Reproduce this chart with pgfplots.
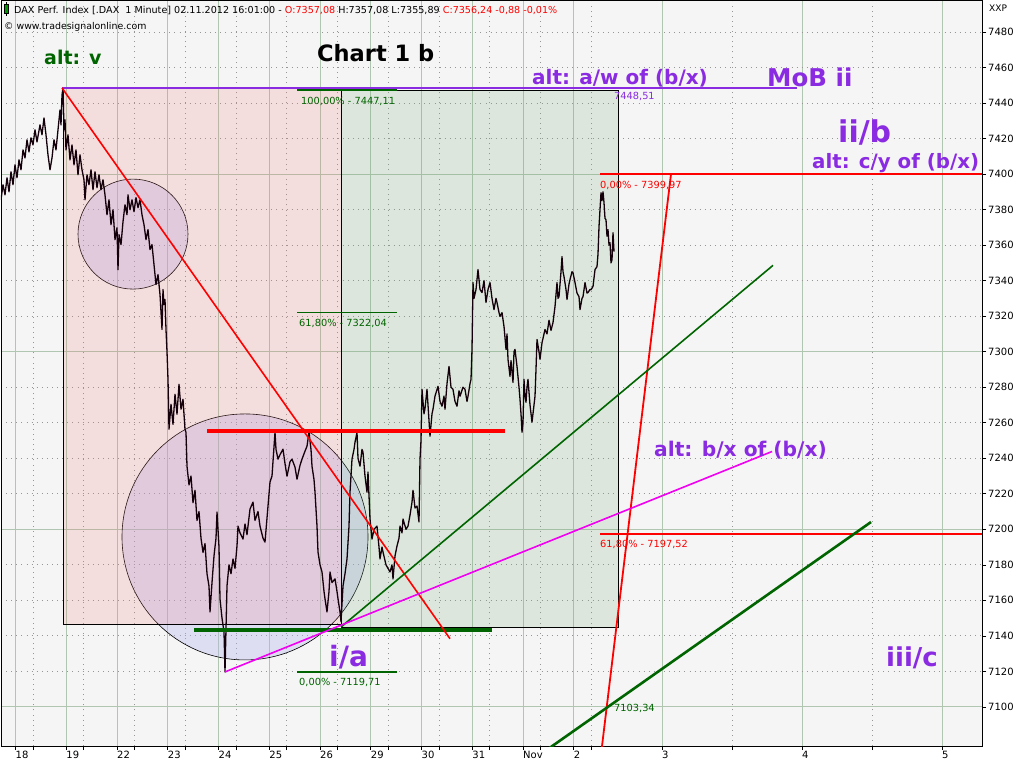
\documentclass[border=0pt]{standalone}
\usepackage{pgfplots}
\pgfplotsset{compat=1.18}
\usepackage{fontspec}
\setmainfont{DejaVu Sans}
\definecolor{bgc}{RGB}{245,245,245}
\definecolor{gridc}{RGB}{176,198,176}
\definecolor{dotc}{RGB}{150,150,150}
\definecolor{pinkf}{RGB}{235,120,120}
\definecolor{greenf}{RGB}{120,170,120}
\definecolor{circf}{RGB}{180,180,240}
\definecolor{vio}{RGB}{138,43,226}
\definecolor{dgreen}{RGB}{0,100,0}
\definecolor{mag}{RGB}{240,0,240}
\definecolor{rred}{RGB}{255,0,0}
\definecolor{candle}{RGB}{0,150,0}
\definecolor{price}{RGB}{20,0,10}
\begin{document}
\begin{tikzpicture}[x=1pt,y=1pt]
\useasboundingbox (0,0) rectangle (1024,768);
\begin{axis}[
  at={(1pt,22pt)}, anchor=south west, scale only axis,
  width=981pt, height=746pt,
  xmin=1, xmax=982, ymin=7078, ymax=7498,
  axis background/.style={fill=bgc},
  axis line style={black, line width=0.8pt},
  tick align=outside,
  xtick pos=left, ytick pos=right,
  major tick length=4pt, minor tick length=4pt,
  tick style={black, line width=0.6pt},
  xtick={15.5,66.25,117,167.75,218.5,269.25,320,370.75,421.5,472.25,523,573.75,662,802,942},
  xticklabels={18,19,22,23,24,25,26,29,30,31,Nov,2,3,4,5},
  minor xtick={33,83.75,134.5,185.25,236,286.75,337.5,388.25,439,489.75,540.5,591.25,732,872},
  ytick={7100,7200,7300,7400},
  minor ytick={7120,7140,7160,7180,7220,7240,7260,7280,7320,7340,7360,7380,7420,7440,7460,7480},
  extra y ticks={7120,7140,7160,7180,7220,7240,7260,7280,7320,7340,7360,7380,7420,7440,7460,7480},
  extra y tick style={grid=none},
  xmajorgrids, xminorgrids, ymajorgrids, yminorgrids,
  major grid style={solid, color=gridc, line width=0.9pt},
  minor grid style={color=dotc, line width=0.8pt, dash pattern=on 0.9pt off 4.2pt},
  /pgf/number format/1000 sep={},
  /pgf/number format/assume math mode=true,
  ticklabel style={font=\fontsize{10}{12}\selectfont},
  xticklabel style={anchor=north west, xshift=-1pt, inner sep=1pt},
  yticklabel style={anchor=west, inner sep=2pt},
]
% circles (under the boxes)
\draw[black, line width=0.6pt, fill=circf, fill opacity=0.35] (axis cs:133,7366.2) circle[radius=55pt];
\draw[black, line width=0.6pt, fill=circf, fill opacity=0.35] (axis cs:245,7195.7) circle[radius=123pt];
% boxes
\addplot[draw=black, line width=0.8pt, fill=pinkf, fill opacity=0.19] coordinates {(63,7448.2)(341,7448.2)(341,7146.7)(63,7146.7)} -- cycle;
\addplot[draw=black, line width=0.8pt, fill=greenf, fill opacity=0.2] coordinates {(341,7447.1)(618,7447.1)(618,7145.0)(341,7145.0)} -- cycle;
% price
\addplot[price, line width=1.3pt, line join=round] coordinates {
(1,7385.5)(3,7394.0)(5,7388.3)(7,7397.9)(9,7390.0)(11,7401.3)(13,7394.0)(15,7405.2)(17,7397.9)(19,7408.0)(21,7402.4)(23,7413.6)(25,7409.1)(27,7419.3)(29,7412.5)(31,7420.4)(33,7416.4)(35,7424.9)(37,7418.1)(40,7427.7)(42,7422.1)(44,7431.6)(46,7422.1)(48,7410.8)(50,7402.4)(52,7409.1)(54,7419.3)(56,7413.6)(58,7424.9)(60,7436.1)(61,7427.7)(62,7444.5)(63,7448.5)
(64,7424.9)(65,7430.5)(66,7413.6)(68,7422.1)(70,7408.0)(72,7416.4)(74,7405.2)(76,7413.6)(78,7399.6)(80,7410.8)(82,7402.4)(84,7396.8)(85,7385.5)(87,7399.6)(89,7394.0)(91,7402.4)(93,7391.2)(95,7401.3)(97,7392.3)(99,7399.6)(101,7391.2)(103,7396.8)
(105,7388.3)(107,7377.1)(109,7385.5)(111,7371.5)(113,7379.9)(115,7363.1)(117,7369.8)(118,7346.2)(119,7365.9)(121,7360.3)(123,7373.2)(125,7382.7)(127,7377.1)(128,7388.3)(130,7379.9)(132,7385.5)(134,7378.8)(136,7386.7)(138,7381.1)(140,7385.5)(142,7377.1)(144,7371.5)(146,7363.1)(148,7368.7)(150,7357.5)(152,7360.3)(154,7349.0)(156,7337.8)(158,7343.4)(160,7332.2)(162,7312.5)(163,7335.0)(164,7326.6)(165,7329.4)(166,7312.5)
(167,7300.0)(168,7284.4)(169,7256.3)(171,7270.4)(173,7259.1)(175,7276.0)(177,7264.8)(179,7281.6)(181,7267.6)(183,7273.2)(185,7256.3)(186,7254.6)(187,7235.5)(189,7225.0)(191,7230.0)(193,7215.0)(195,7222.0)(197,7205.0)(199,7210.0)(201,7195.0)(203,7187.0)(205,7192.0)(207,7175.0)(209,7168.0)(210,7153.5)(212,7170.0)(214,7185.0)(216,7195.0)(217,7209.7)
(219,7190.0)(220,7160.8)(222,7150.0)(224,7142.3)(225,7119.7)(227,7168.1)(229,7180.0)(231,7175.0)(233,7183.3)(235,7178.0)(237,7190.6)(238,7201.8)(240,7198.0)(243,7194.5)(245,7203.0)(247,7197.0)(250,7211.4)(253,7215.3)(255,7205.0)(258,7210.0)(260,7201.8)(263,7195.0)(265,7192.8)(268,7213.1)
(270,7226.6)(272,7230.0)(275,7254.6)(276,7245.0)(278,7239.5)(280,7242.0)(283,7245.1)(285,7237.0)(287,7229.9)(290,7238.0)(292,7239.5)(295,7235.0)(297,7228.2)(300,7236.0)(302,7239.5)(305,7244.0)(307,7246.8)(309,7254.6)(311,7245.0)(312,7235.5)(314,7228.0)(315,7220.9)(317,7201.8)(318,7187.2)(320,7180.0)
(322,7176.0)(324,7165.0)(325,7160.8)(327,7153.5)(329,7165.0)(330,7176.0)(332,7170.0)(335,7172.1)(337,7165.0)(338,7160.8)(340,7153.5)(341,7148.0)(343,7168.1)(345,7175.0)(347,7183.3)(349,7201.8)(350,7220.9)(352,7239.5)(354,7245.0)(355,7249.0)(357,7254.6)(358,7240.0)(360,7235.5)(362,7245.0)(363,7243.4)(365,7230.0)(367,7220.9)(368,7232.2)(370,7205.8)
(372,7194.5)(374,7200.0)(377,7201.8)(379,7190.0)(380,7183.3)(382,7190.0)(383,7187.2)(386,7180.0)(390,7176.0)(392,7180.0)(393,7172.1)(395,7185.0)(397,7190.6)(399,7195.0)(400,7201.8)(402,7198.0)(403,7205.8)(406,7200.0)(408,7201.8)(410,7208.0)(412,7215.3)(413,7222.0)(415,7212.0)(417,7213.1)(419,7204.1)
(420,7239.5)(421,7250.0)(422,7278.8)(424,7265.0)(425,7268.0)(427,7278.8)(428,7270.0)(430,7252.4)(432,7265.0)(433,7267.6)(435,7275.0)(438,7280.5)(440,7272.0)(442,7269.3)(444,7275.0)(445,7267.6)(447,7282.0)(449,7291.7)(451,7280.0)(453,7278.8)(455,7272.0)(457,7269.3)(459,7278.0)(460,7274.9)(463,7280.0)(465,7278.8)(467,7272.0)(468,7274.9)(470,7282.0)(471,7284.4)
(472,7301.3)(473,7338.9)(474,7330.0)(476,7335.0)(478,7346.2)(480,7335.0)(482,7333.3)(484,7340.0)(486,7327.7)(488,7335.0)(490,7338.9)(492,7330.0)(494,7323.7)(496,7330.0)(497,7327.7)(499,7322.0)(500,7319.8)(502,7322.0)(504,7314.2)(506,7301.3)(507,7310.0)(508,7295.7)(510,7286.1)(511,7295.0)(513,7282.7)(514,7300.0)(515,7301.3)(517,7291.7)(519,7280.0)(520,7273.2)(521,7265.0)(522,7254.6)(523,7260.0)
(524,7284.4)(525,7275.0)(526,7271.5)(527,7280.0)(528,7284.4)(530,7270.0)(532,7260.3)(534,7270.0)(535,7274.9)(536,7290.0)(537,7306.9)(539,7300.0)(540,7295.7)(542,7305.0)(545,7312.5)(547,7310.0)(549,7317.7)(551,7312.0)(553,7316.4)(555,7325.4)(557,7338.9)(558,7330.0)(559,7331.0)(561,7345.0)(562,7353.5)(563,7345.0)(564,7342.3)(566,7335.0)(567,7329.4)(569,7338.0)(570,7340.6)(572,7345.0)(573,7344.5)
(575,7338.9)(577,7333.0)(579,7331.0)(580,7323.7)(582,7330.0)(583,7331.0)(585,7338.9)(587,7333.0)(588,7333.3)(590,7335.0)(591,7334.9)(593,7336.7)(595,7346.2)(597,7347.9)(598,7355.0)(599,7370.4)(600,7380.0)(601,7389.5)(602,7385.0)(603,7390.0)(604,7383.9)(605,7375.0)(606,7374.3)(607,7365.0)(608,7368.7)(609,7360.0)(610,7361.4)(611,7350.0)(612,7351.8)(613,7367.0)(614,7356.3)
};
% horizontal levels
\addplot[vio, line width=2pt] coordinates {(62,7448.5)(797,7448.5)};
\addplot[dgreen, line width=2pt] coordinates {(297,7447.1)(397,7447.1)};
\addplot[dgreen, line width=1.6pt] coordinates {(297,7322.0)(397,7322.0)};
\addplot[dgreen, line width=1.6pt] coordinates {(297,7119.7)(397,7119.7)};
\addplot[rred, line width=1.8pt] coordinates {(600,7400.0)(982,7400.0)};
\addplot[rred, line width=1.8pt] coordinates {(600,7197.5)(982,7197.5)};
\addplot[rred, line width=3.5pt] coordinates {(207,7255.3)(505,7255.3)};
\addplot[dgreen, line width=4pt] coordinates {(194,7143.3)(492,7143.3)};
% trend lines
\addplot[rred, line width=1.6pt] coordinates {(62,7448.5)(450,7138.4)};
\addplot[rred, line width=1.8pt] coordinates {(600.3,7070.0)(671,7400.0)};
\addplot[dgreen, line width=1.6pt] coordinates {(341,7145.0)(773,7348.6)};
\addplot[dgreen, line width=2.6pt] coordinates {(548,7076.3)(871,7204.1)};
\addplot[mag, line width=1.6pt] coordinates {(225,7119.7)(772,7243.8)};
% labels
\node[anchor=base west, inner sep=0pt, text=dgreen, font=\bfseries\fontsize{19}{22}\selectfont] at (axis cs:44,7461.8) {alt: v};
\node[anchor=base west, inner sep=0pt, text=black, font=\bfseries\fontsize{22.5}{26}\selectfont] at (axis cs:317,7463.3) {Chart 1 b};
\node[anchor=base west, inner sep=0pt, text=vio, font=\bfseries\fontsize{20}{24}\selectfont] at (axis cs:532,7450.7) {alt: a/w of (b/x)};
\node[anchor=base west, inner sep=0pt, text=vio, font=\bfseries\fontsize{24.5}{28}\selectfont] at (axis cs:767,7449.2) {MoB ii};
\node[anchor=base west, inner sep=0pt, text=vio, font=\bfseries\fontsize{30}{34}\selectfont] at (axis cs:838,7418.0) {ii/b};
\node[anchor=base west, inner sep=0pt, text=vio, font=\bfseries\fontsize{19.8}{24}\selectfont] at (axis cs:812,7403.4) {alt: c/y of (b/x)};
\node[anchor=base west, inner sep=0pt, text=vio, font=\bfseries\fontsize{20.2}{24}\selectfont] at (axis cs:654,7241.2) {alt: b/x of (b/x)};
\node[anchor=base west, inner sep=0pt, text=vio, font=\bfseries\fontsize{28}{32}\selectfont] at (axis cs:329,7122.6) {i/a};
\node[anchor=base west, inner sep=0pt, text=vio, font=\bfseries\fontsize{26}{30}\selectfont] at (axis cs:886,7122.6) {iii/c};
\node[anchor=base west, inner sep=0pt, text=dgreen, font=\fontsize{9.8}{12}\selectfont] at (axis cs:301,7438.9) {100,00\% - 7447,11};
\node[anchor=base west, inner sep=0pt, text=dgreen, font=\fontsize{9.8}{12}\selectfont] at (axis cs:299,7314.4) {61,80\% - 7322,04};
\node[anchor=base west, inner sep=0pt, text=dgreen, font=\fontsize{9.8}{12}\selectfont] at (axis cs:299,7112.3) {0,00\% - 7119,71};
\node[anchor=base west, inner sep=0pt, text=vio, font=\fontsize{9.8}{12}\selectfont] at (axis cs:614,7441.7) {7448,51};
\node[anchor=base west, inner sep=0pt, text=rred, font=\fontsize{9.8}{12}\selectfont] at (axis cs:600,7391.9) {0,00\% - 7399,97};
\node[anchor=base west, inner sep=0pt, text=rred, font=\fontsize{9.8}{12}\selectfont] at (axis cs:600,7189.6) {61,80\% - 7197,52};
\node[anchor=base west, inner sep=0pt, text=dgreen, font=\fontsize{9.8}{12}\selectfont] at (axis cs:614,7097.2) {7103,34};
\end{axis}
% header
\draw[black, line width=0.6pt] (6,766) -- (6,752);
\filldraw[fill=candle, draw=black, line width=0.6pt] (4,764) rectangle (8,755);
\node[anchor=base west, inner sep=0pt, font=\fontsize{9.6}{12}\selectfont] at (14,754) {DAX Perf. Index [.DAX\ \ 1 Minute] 02.11.2012 16:01:00 - \textcolor{rred}{O:7357,08} H:7357,08 L:7355,89 \textcolor{rred}{C:7356,24 -0,88 -0,01\%}};
\node[anchor=base west, inner sep=0pt, font=\fontsize{9.4}{12}\selectfont] at (4,738) {© www.tradesignalonline.com};
\node[anchor=base west, inner sep=0pt, font=\fontsize{9}{12}\selectfont] at (989,756) {XXP};
\end{tikzpicture}
\end{document}
